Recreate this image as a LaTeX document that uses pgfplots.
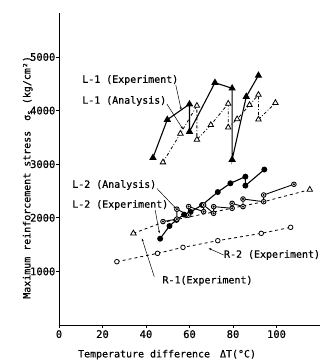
\documentclass[border=0pt]{standalone}
\usepackage{pgfplots}
\pgfplotsset{compat=1.18}
\usepackage{fontspec}
\setmainfont{DejaVu Sans Mono}[FakeBold=0.4]
\usetikzlibrary{arrows.meta}
\begin{document}
\begin{tikzpicture}
\path[use as bounding box] (-59bp,-36bp) rectangle (269bp,325bp);
\begin{axis}[
  at={(0,0)}, anchor=south west,
  scale only axis, width=261bp, height=312bp,
  xmin=0, xmax=120, ymin=0, ymax=5820,
  axis lines=left, axis line style={-, line width=0.9pt},
  xtick={0,20,40,60,80,100}, ytick={1000,2000,3000,4000,5000},
  minor x tick num=3,
  tick align=outside, major tick length=3pt, minor tick length=1.5pt,
  tick style={line width=0.7pt, black},
  /pgf/number format/assume math mode=true,
  /pgf/number format/1000 sep={},
  tick label style={font=\fontsize{10.5pt}{12pt}\selectfont},
  yticklabel style={inner sep=0.5pt},
  xticklabel style={inner sep=2pt},
  clip=false,
  every node/.append style={font=\fontsize{9.6pt}{11pt}\selectfont},
]
% L-1 Experiment
\addplot[black, line width=1.1pt, mark=triangle*, mark size=3.2pt, mark options={solid, fill=black}] coordinates {
(43.2,3120) (49.8,3830) (60,4120) (60,3607) (71.7,4520) (79.6,4415) (79.6,3085) (86.1,4260) (91.7,4655)};
% L-1 Analysis
\addplot[black, line width=0.8pt, dash dot, mark=triangle*, mark size=3.2pt, mark options={solid, fill=white}] coordinates {
(47.8,3035) (55.8,3570) (63.4,4090) (63.4,3458) (69.8,3731) (77.8,4130) (77.8,3685) (81.9,3840) (87.6,4104) (91.7,4295) (91.7,3834) (99.5,4143)};
% R-1 Experiment
\addplot[black, line width=0.8pt, dashed, mark=triangle*, mark size=3.2pt, mark indices={1,4}, mark options={solid, fill=white}] coordinates {
(34.2,1710) (47.8,1915) (94.1,2300) (115.3,2525)};
% R-2 Experiment
\addplot[black, line width=0.8pt, dashed, mark=*, mark size=2.3pt, mark options={solid, fill=white}] coordinates {
(26.6,1181) (45.3,1337) (57,1448) (73,1573) (93,1710) (106.5,1822)};
% L-2 Analysis
\addplot[black, line width=1.1pt, mark=*, mark size=2.4pt, mark options={solid, fill=black}] coordinates {
(46.5,1610) (50.8,1847) (54,1960) (57.5,2060) (60.5,2110) (65.8,2239) (73,2480) (78.8,2643) (85.7,2767) (85.7,2600) (94.4,2900)};
% L-2 Experiment
\addplot[black, line width=0.9pt, mark=*, mark size=2.3pt, mark options={solid, fill=white}] coordinates {
(47.8,1930) (54.2,1975) (54.2,2160) (59.6,2050) (59.6,2210) (66.5,2115) (66.5,2239) (71.1,2083) (71.1,2208) (79.6,2177) (79.6,2270) (84.6,2208) (84.6,2350) (94.1,2300) (94.1,2425) (108,2625)};
\addplot[black, only marks, mark=*, mark size=0.8pt] coordinates {
(47.8,1930) (54.2,1975) (54.2,2160) (59.6,2050) (59.6,2210) (66.5,2115) (66.5,2239) (71.1,2083) (71.1,2208) (79.6,2177) (79.6,2270) (84.6,2208) (84.6,2350) (94.1,2300) (94.1,2425) (108,2625)};
% labels
\node[anchor=west, inner sep=0pt] at (axis cs:10.6,4570) {L-1 (Experiment)};
\node[anchor=west, inner sep=0pt] at (axis cs:10.6,4180) {L-1 (Analysis)};
\node[anchor=west, inner sep=0pt] at (axis cs:6,2612) {L-2 (Analysis)};
\node[anchor=west, inner sep=0pt] at (axis cs:6,2239) {L-2 (Experiment)};
\node[anchor=west, inner sep=0pt] at (axis cs:75.8,1306) {R-2 (Experiment)};
\node[anchor=west, inner sep=0pt] at (axis cs:47.5,826) {R-1(Experiment)};
\draw[-{Stealth[length=3pt,width=2pt]}, line width=0.5pt] (axis cs:53.7,4478) -- (axis cs:56.2,4011);
\draw[-{Stealth[length=3pt,width=2pt]}, line width=0.5pt] (axis cs:49.6,4123) -- (axis cs:57,3651);
\draw[-{Stealth[length=3pt,width=2pt]}, line width=0.5pt] (axis cs:45,2547) -- (axis cs:53.8,2173);
\draw[-{Stealth[length=3pt,width=2pt]}, line width=0.5pt] (axis cs:44.2,2146) -- (axis cs:46.2,1710);
\draw[-{Stealth[length=3pt,width=2pt]}, line width=0.5pt] (axis cs:75.7,1306) -- (axis cs:68.8,1431);
\draw[-{Stealth[length=3pt,width=2pt]}, line width=0.5pt] (axis cs:43.8,901) -- (axis cs:38.1,1617);
% axis titles
\node[rotate=90] at (rel axis cs:-0.12,0.473) {Maximum reinforcement stress\quad σ\textsubscript{s} (kg/cm²)};
\node at (rel axis cs:0.414,-0.095) {Temperature difference\quad ΔT(°C)};
\end{axis}
\end{tikzpicture}
\end{document}
